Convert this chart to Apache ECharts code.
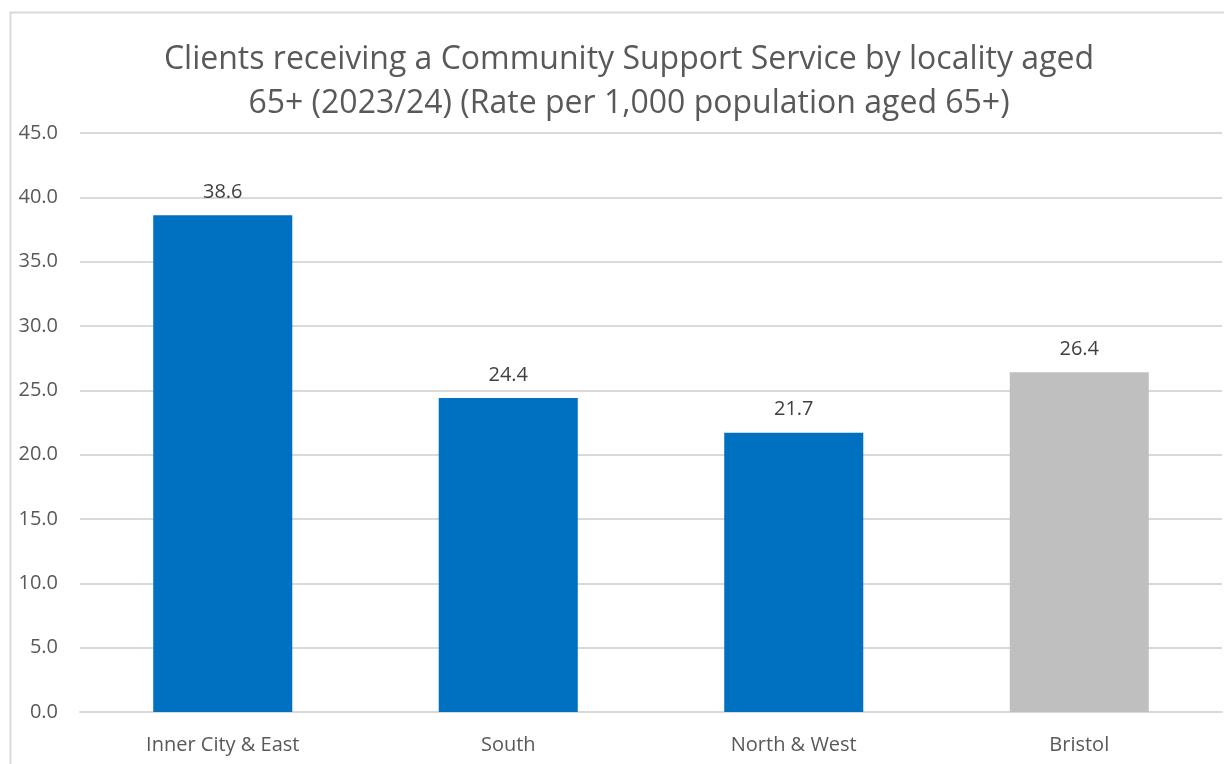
<!DOCTYPE html>
<html>
<head>
<meta charset="utf-8">
<script src="https://cdn.jsdelivr.net/npm/echarts@6/dist/echarts.min.js"></script>
<style>
  html, body { margin: 0; padding: 0; background: #fff; }
  #chart { width: 1224px; height: 764px; }
</style>
</head>
<body>
<div id="chart"></div>
<script>
const categories = ["Inner City & East", "South", "North & West", "Bristol"];
const rates = [38.6, 24.4, 21.7, 26.4];
const barColors = ["#0070c0", "#0070c0", "#0070c0", "#bfbfbf"];

const chart = echarts.init(document.getElementById("chart"));

chart.setOption({
  animation: false,
  textStyle: { fontFamily: "Open Sans" },
  title: {
    text: "Clients receiving a Community Support Service by locality aged\n65+ (2023/24) (Rate per 1,000 population aged 65+)",
    left: 624,
    textAlign: "center",
    top: 33,
    textStyle: {
      color: "#595959",
      fontSize: 32,
      fontWeight: "normal",
      lineHeight: 44
    }
  },
  graphic: [{
    type: "rect",
    shape: { x: 10.5, y: 12.5, width: 1240, height: 800 },
    style: { fill: "none", stroke: "#d9d9d9", lineWidth: 2 },
    silent: true
  }],
  grid: { left: 80, right: 2, top: 133, bottom: 52 },
  xAxis: {
    type: "category",
    data: categories,
    axisLine: { lineStyle: { color: "#d9d9d9", width: 2 } },
    axisTick: { show: false },
    axisLabel: { color: "#595959", fontSize: 20, margin: 23 }
  },
  yAxis: {
    type: "value",
    min: 0,
    max: 45,
    interval: 5,
    axisLine: { show: false },
    axisTick: { show: false },
    axisLabel: {
      color: "#595959",
      fontSize: 20,
      margin: 22,
      formatter: v => v.toFixed(1)
    },
    splitLine: { lineStyle: { color: "#d9d9d9", width: 2 } }
  },
  series: [{
    type: "bar",
    data: rates.map((v, i) => ({ value: v, itemStyle: { color: barColors[i] } })),
    barWidth: "48.7%",
    label: {
      show: true,
      position: "top",
      distance: 13,
      color: "#404040",
      fontSize: 20,
      formatter: p => p.value.toFixed(1)
    }
  }]
});
</script>
</body>
</html>
